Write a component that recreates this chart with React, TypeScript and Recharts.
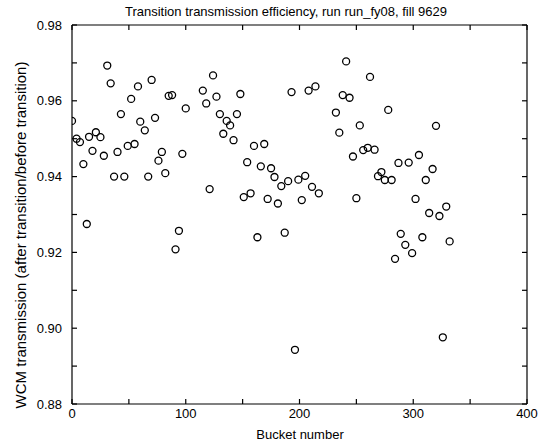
import React from "react";
import { ScatterChart, Scatter, XAxis, YAxis } from "recharts";

const bucketNumbers: number[] = [
  0, 4, 7, 10, 13, 15, 18, 21, 25, 28, 31, 34, 37, 40, 43, 46, 49, 52, 55, 58,
  60, 64, 67, 70, 73, 76, 79, 82, 85, 88, 91, 94, 97, 100, 115, 118, 121, 124, 127, 130,
  133, 136, 139, 142, 145, 148, 151, 154, 157, 160, 163, 166, 169, 172, 175, 178, 181, 184, 187, 190,
  193, 196, 199, 202, 205, 208, 211, 214, 217, 232, 235, 238, 241, 244, 247, 250, 253, 256, 260, 262,
  266, 269, 272, 275, 278, 281, 284, 287, 289, 293, 296, 299, 302, 305, 308, 311, 314, 317, 320, 323,
  326, 329, 332,
];

const transmission: number[] = [
  0.9547, 0.95, 0.9491, 0.9433, 0.9275, 0.9505, 0.9468, 0.9517, 0.9504, 0.9455, 0.9693, 0.9646, 0.94, 0.9465, 0.9565, 0.94, 0.9481, 0.9605, 0.9486, 0.9638,
  0.9545, 0.9522, 0.94, 0.9655, 0.9555, 0.9442, 0.9465, 0.9409, 0.9613, 0.9615, 0.9208, 0.9257, 0.946, 0.958, 0.9627, 0.9593, 0.9367, 0.9667, 0.9611, 0.9565,
  0.9513, 0.9547, 0.9535, 0.9496, 0.9565, 0.9618, 0.9346, 0.9438, 0.9356, 0.9481, 0.924, 0.9427, 0.9486, 0.9341, 0.9422, 0.9399, 0.9329, 0.9375, 0.9252, 0.9388,
  0.9623, 0.8943, 0.9392, 0.9338, 0.9402, 0.9627, 0.9373, 0.9638, 0.9356, 0.9569, 0.9516, 0.9615, 0.9704, 0.9608, 0.9453, 0.9343, 0.9535, 0.947, 0.9476, 0.9663,
  0.9471, 0.9401, 0.9412, 0.9391, 0.9576, 0.9391, 0.9183, 0.9436, 0.9249, 0.922, 0.9437, 0.9198, 0.9341, 0.9457, 0.924, 0.9391, 0.9304, 0.942, 0.9534, 0.9296,
  0.8976, 0.9321, 0.9229,
];

const xTicks: number[] = [0, 50, 100, 150, 200, 250, 300, 350, 400];
const xLabelTicks: number[] = [0, 100, 200, 300, 400];
const yTicks: number[] = [0.88, 0.89, 0.9, 0.91, 0.92, 0.93, 0.94, 0.95, 0.96, 0.97, 0.98];
const yLabelTicks: number[] = [0.88, 0.9, 0.92, 0.94, 0.96, 0.98];

const titleText = "Transition transmission efficiency, run run_fy08, fill 9629";
const xLabelText = "Bucket number";
const yLabelText = "WCM transmission (after transition/before transition)";

const data = bucketNumbers.map((b, i) => ({ bucket: b, eff: transmission[i] }));

const FONT = "'Liberation Sans', Arial, Helvetica, sans-serif";
const TICK_LEN = 5;

const near = (arr: number[], v: number) => arr.some((a) => Math.abs(a - v) < 1e-6);
const fmtX = (v: number) => (near(xLabelTicks, v) ? String(v) : "");
const fmtY = (v: number) => (near(yLabelTicks, v) ? v.toFixed(2) : "");
const fmtNone = () => "";

const axisLine = { stroke: "#000", strokeWidth: 1.2 };
const tickLine = { stroke: "#000", strokeWidth: 1.2 };
const tickStyle = { fontSize: 13, fontFamily: FONT, fill: "#000" };

const OpenCircle = (props: any) => {
  const { cx, cy } = props;
  if (cx == null || cy == null) return null;
  return <circle cx={cx} cy={cy} r={3.5} fill="none" stroke="#000" strokeWidth={1.3} />;
};

const NoMark = () => <g />;

export default function App() {
  return (
    <div style={{ position: "absolute", left: 0, top: 0, width: 544, height: 446, background: "#fff", overflow: "hidden" }}>
      <ScatterChart width={544} height={446} margin={{ top: 24, right: 16, bottom: 12, left: 0 }}>
        <XAxis
          xAxisId="bottom"
          type="number"
          dataKey="bucket"
          domain={[0, 400]}
          ticks={xTicks}
          interval={0}
          height={30}
          tickSize={-TICK_LEN}
          tickMargin={TICK_LEN + 5}
          tickLine={tickLine}
          axisLine={axisLine}
          tick={tickStyle}
          tickFormatter={fmtX}
          allowDataOverflow
        />
        <XAxis
          xAxisId="top"
          orientation="top"
          type="number"
          dataKey="bucket"
          domain={[0, 400]}
          ticks={xTicks}
          interval={0}
          height={1}
          tickSize={-TICK_LEN}
          tickMargin={0}
          tickLine={tickLine}
          axisLine={axisLine}
          tick={tickStyle}
          tickFormatter={fmtNone}
          allowDataOverflow
        />
        <YAxis
          yAxisId="left"
          type="number"
          dataKey="eff"
          domain={[0.88, 0.98]}
          ticks={yTicks}
          interval={0}
          width={72}
          tickSize={-TICK_LEN}
          tickMargin={TICK_LEN + 10}
          tickLine={tickLine}
          axisLine={axisLine}
          tick={tickStyle}
          tickFormatter={fmtY}
          allowDataOverflow
        />
        <YAxis
          yAxisId="right"
          orientation="right"
          type="number"
          dataKey="eff"
          domain={[0.88, 0.98]}
          ticks={yTicks}
          interval={0}
          width={1}
          tickSize={-TICK_LEN}
          tickMargin={0}
          tickLine={tickLine}
          axisLine={axisLine}
          tick={tickStyle}
          tickFormatter={fmtNone}
          allowDataOverflow
        />
        <Scatter
          data={data}
          xAxisId="top"
          yAxisId="right"
          shape={<NoMark />}
          isAnimationActive={false}
        />
        <Scatter
          data={data}
          xAxisId="bottom"
          yAxisId="left"
          shape={<OpenCircle />}
          isAnimationActive={false}
        />
      </ScatterChart>
      <svg
        width={544}
        height={446}
        style={{ position: "absolute", left: 0, top: 0, pointerEvents: "none" }}
      >
        <text x={286} y={16} textAnchor="middle" fontSize={13} fontFamily={FONT} fill="#000">
          {titleText}
        </text>
        <text x={300} y={439} textAnchor="middle" fontSize={13} fontFamily={FONT} fill="#000">
          {xLabelText}
        </text>
        <text
          x={20}
          y={235}
          textAnchor="middle"
          dominantBaseline="central"
          fontSize={15}
          fontFamily={FONT}
          fill="#000"
          transform="rotate(-90 20 235)"
        >
          {yLabelText}
        </text>
      </svg>
    </div>
  );
}
